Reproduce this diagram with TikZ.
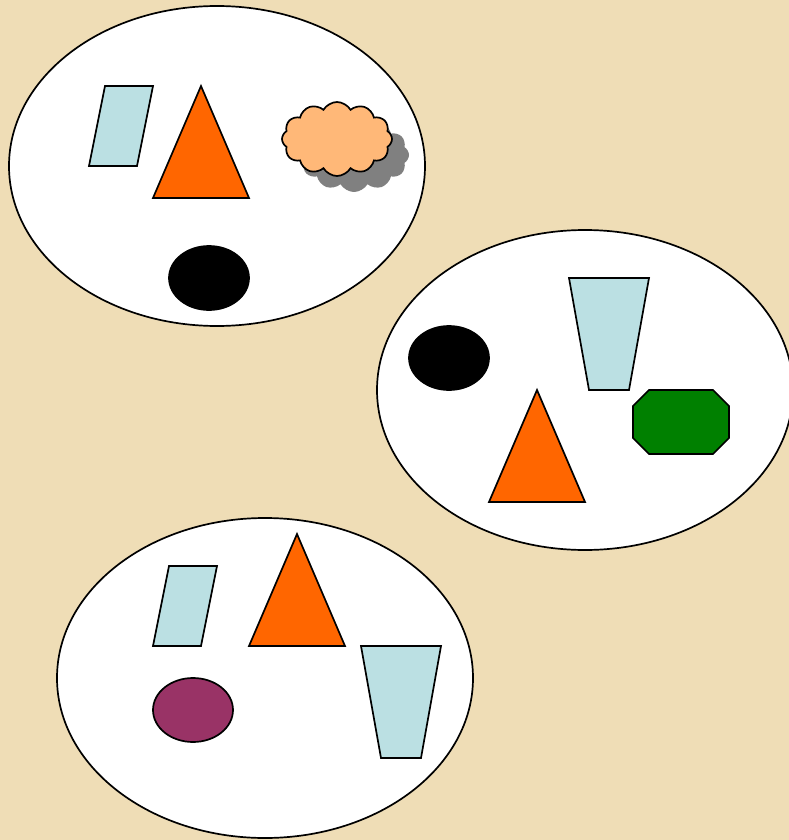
\documentclass[tikz,border=0pt]{standalone}
\usetikzlibrary{shapes.symbols}
\definecolor{bg}{HTML}{EFDDB6}
\definecolor{pale}{HTML}{BBE0E3}
\definecolor{orng}{HTML}{FF6600}
\definecolor{peach}{HTML}{FFB878}
\definecolor{grn}{HTML}{008000}
\definecolor{plum}{HTML}{993366}
\definecolor{shad}{HTML}{808080}
\tikzset{
  outl/.style={draw=black, line width=1.7pt, line join=miter},
  plate/.style={outl, fill=white},
  blob/.style={outl, fill=black},
  pastel/.style={outl, fill=pale},
  tri/.style={outl, fill=orng},
  puffy/.style={cloud, cloud puffs=12, cloud puff arc=120, aspect=1.5, inner sep=0pt, minimum width=110pt, minimum height=74pt},
}
\begin{document}
\begin{tikzpicture}[x=1pt,y=-1pt]
\useasboundingbox (0,0) rectangle (789,840);
\fill[bg] (0,0) rectangle (789,840);
% plate 1
\draw[plate] (217,166) ellipse [x radius=208, y radius=160];
\draw[pastel] (89,166) -- (105,86) -- (153,86) -- (137,166) -- cycle;
\draw[tri] (201,86) -- (249,198) -- (153,198) -- cycle;
\node[puffy, fill=shad] (cloudshadow) at (354,155) {};
\node[puffy, outl, fill=peach] (cloud) at (337,139) {};
\draw[blob] (209,278) ellipse [x radius=40, y radius=32];
% plate 2
\draw[plate] (585,390) ellipse [x radius=208, y radius=160];
\draw[blob] (449,358) ellipse [x radius=40, y radius=32];
\draw[pastel] (569,278) -- (649,278) -- (629,390) -- (589,390) -- cycle;
\draw[outl, fill=grn] (649,390) -- (713,390) -- (729,406) -- (729,438) -- (713,454) -- (649,454) -- (633,438) -- (633,406) -- cycle;
\draw[tri] (537,390) -- (585,502) -- (489,502) -- cycle;
% plate 3
\draw[plate] (265,678) ellipse [x radius=208, y radius=160];
\draw[pastel] (153,646) -- (169,566) -- (217,566) -- (201,646) -- cycle;
\draw[tri] (297,534) -- (345,646) -- (249,646) -- cycle;
\draw[pastel] (361,646) -- (441,646) -- (421,758) -- (381,758) -- cycle;
\draw[outl, fill=plum] (193,710) ellipse [x radius=40, y radius=32];
\end{tikzpicture}
\end{document}
